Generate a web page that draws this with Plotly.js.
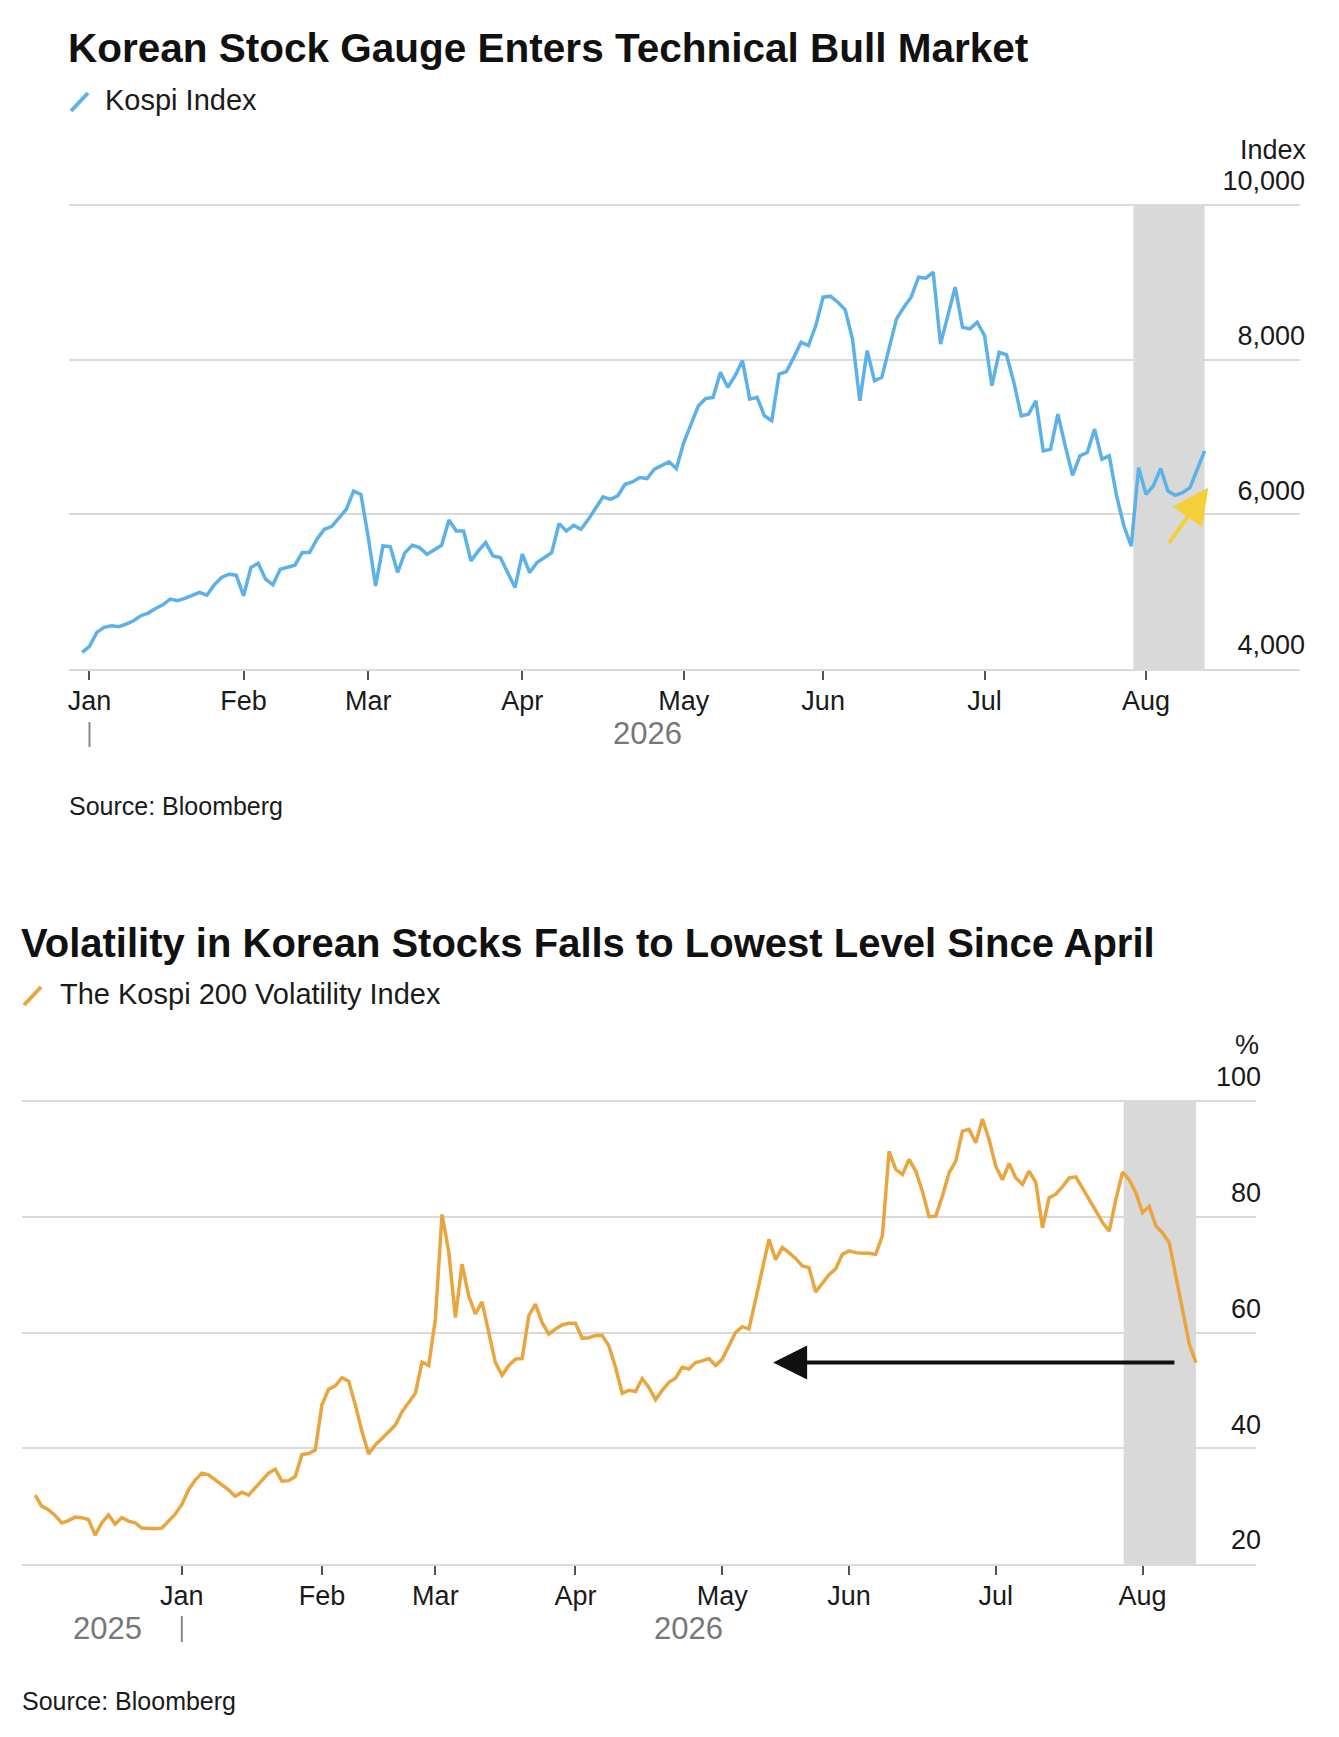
<!DOCTYPE html>
<html>
<head>
<meta charset="utf-8">
<script src="https://cdn.plot.ly/plotly-3.0.1.min.js"></script>
<style>
html,body{margin:0;padding:0;background:#fff;}
#chart{width:1339px;height:1737px;}
</style>
</head>
<body>
<div id="chart"></div>
<script>
// ---------- DATA ----------
const kospiDates = [
"2025-12-30","2026-01-02","2026-01-05","2026-01-06","2026-01-07","2026-01-08","2026-01-09",
"2026-01-12","2026-01-13","2026-01-14","2026-01-15","2026-01-16","2026-01-19","2026-01-20",
"2026-01-21","2026-01-22","2026-01-23","2026-01-26","2026-01-27","2026-01-28","2026-01-29",
"2026-01-30","2026-02-02","2026-02-03","2026-02-04","2026-02-05","2026-02-06","2026-02-09",
"2026-02-10","2026-02-11","2026-02-12","2026-02-13","2026-02-19","2026-02-20","2026-02-23",
"2026-02-24","2026-02-25","2026-02-26","2026-02-27","2026-03-03","2026-03-04","2026-03-05",
"2026-03-06","2026-03-09","2026-03-10","2026-03-11","2026-03-12","2026-03-13","2026-03-16",
"2026-03-17","2026-03-18","2026-03-19","2026-03-20","2026-03-23","2026-03-24","2026-03-25",
"2026-03-26","2026-03-27","2026-03-30","2026-03-31","2026-04-01","2026-04-02","2026-04-03",
"2026-04-06","2026-04-07","2026-04-08","2026-04-09","2026-04-10","2026-04-13","2026-04-14",
"2026-04-15","2026-04-16","2026-04-17","2026-04-20","2026-04-21","2026-04-22","2026-04-23",
"2026-04-24","2026-04-27","2026-04-28","2026-04-29","2026-04-30","2026-05-01","2026-05-04",
"2026-05-06","2026-05-07","2026-05-08","2026-05-11","2026-05-12","2026-05-13","2026-05-14",
"2026-05-15","2026-05-18","2026-05-19","2026-05-20","2026-05-21","2026-05-22","2026-05-26",
"2026-05-27","2026-05-28","2026-05-29","2026-06-01","2026-06-02","2026-06-03","2026-06-04",
"2026-06-05","2026-06-08","2026-06-09","2026-06-10","2026-06-11","2026-06-12","2026-06-15",
"2026-06-16","2026-06-17","2026-06-18","2026-06-19","2026-06-22","2026-06-23","2026-06-24",
"2026-06-25","2026-06-26","2026-06-29","2026-06-30","2026-07-01","2026-07-02","2026-07-03",
"2026-07-06","2026-07-07","2026-07-08","2026-07-09","2026-07-10","2026-07-13","2026-07-14",
"2026-07-15","2026-07-16","2026-07-20","2026-07-21","2026-07-22","2026-07-23","2026-07-24",
"2026-07-27","2026-07-28","2026-07-29","2026-07-30","2026-07-31","2026-08-03","2026-08-04",
"2026-08-05","2026-08-06","2026-08-07","2026-08-10","2026-08-11","2026-08-12","2026-08-13"];
const kospiValues = [
4215,4293,4474,4538,4560,4547,4581,
4624,4689,4723,4783,4830,4904,4882,
4912,4955,4990,4955,5088,5183,5226,
5213,4947,5312,5368,5162,5088,5290,
5312,5342,5505,5505,5678,5806,5841,
5957,6065,6301,6258,5700,5075,5592,
5583,5248,5505,5600,5570,5484,5548,
5600,5927,5785,5785,5398,5527,5635,
5462,5441,5248,5054,5484,5248,5377,
5441,5505,5880,5784,5857,5806,5935,
6086,6225,6194,6238,6389,6419,6475,
6462,6583,6635,6678,6592,6929,7166,
7404,7499,7512,7836,7642,7793,7987,
7490,7512,7274,7210,7814,7845,8030,
8225,8182,8441,8808,8821,8743,8648,
8268,7469,8117,7728,7771,8138,8527,
8678,8808,9067,9054,9132,8203,8570,
8938,8419,8398,8484,8311,7663,8095,
8061,7706,7274,7296,7469,6821,6842,
7296,6886,6505,6756,6799,7102,6713,
6756,6238,5849,5590,6605,6259,6367,
6592,6302,6246,6281,6346,6583,6821];

const volDates = [
"2025-11-28","2025-12-01","2025-12-02","2025-12-03","2025-12-04","2025-12-05","2025-12-08",
"2025-12-09","2025-12-10","2025-12-11","2025-12-12","2025-12-15","2025-12-16","2025-12-17",
"2025-12-18","2025-12-19","2025-12-22","2025-12-23","2025-12-24","2025-12-26","2025-12-29",
"2025-12-30"].concat(kospiDates.slice(1));
const volValues = [
31.9,30.0,29.4,28.4,27.1,27.5,28.1,
28.0,27.7,25.0,27.1,28.5,26.9,28.0,
27.4,27.1,26.2,26.1,26.1,26.2,27.4,
28.6,
// Jan
30.3,32.8,34.5,35.7,35.4,34.5,33.7,32.8,31.7,32.4,31.9,33.1,34.5,35.7,36.4,34.3,34.4,35.1,38.9,39.1,39.7,
// Feb
47.5,50.2,50.8,52.2,51.6,47.5,42.9,39.0,40.6,41.7,42.9,44.0,46.3,47.9,49.5,54.9,54.3,
// Mar
62.3,80.4,74.0,62.6,71.8,66.3,63.2,65.3,60.0,54.8,52.6,54.3,55.4,55.5,62.9,64.9,61.7,59.7,60.6,61.3,61.6,
// Apr
61.6,59.0,59.1,59.5,59.5,57.7,54.0,49.5,50.0,49.8,52.0,50.5,48.4,50.0,51.4,52.1,54.0,53.7,54.8,55.1,55.5,54.3,
// May
55.4,57.7,60.0,61.0,60.6,65.7,70.9,76.1,72.6,74.7,73.8,72.8,71.5,71.2,67.0,68.6,70.0,71.0,73.5,
// Jun
74.1,73.8,73.7,73.7,73.5,76.7,91.3,88.2,87.3,89.9,87.9,84.4,80.0,80.1,83.6,87.6,89.6,94.8,95.1,92.8,96.9,93.3,
// Jul
88.7,86.4,89.2,86.7,85.6,87.9,85.9,78.1,83.3,83.9,85.2,86.7,86.9,85.0,83.0,81.0,79.0,77.5,83.0,87.7,86.4,84.1,
// Aug
80.7,81.8,78.4,77.2,75.5,69.8,63.4,58.0,54.8];

const monthTickDates = ["2026-01-02","2026-02-02","2026-03-03","2026-04-01","2026-05-01","2026-06-01","2026-07-01","2026-08-03"];
const monthTickLabels = ["Jan","Feb","Mar","Apr","May","Jun","Jul","Aug"];
const marketHolidays = ["2025-12-25","2025-12-31","2026-01-01","2026-02-16","2026-02-17","2026-02-18","2026-03-02","2026-05-05","2026-05-25","2026-07-17"];
const kospiTicks = [4000,6000,8000,10000];
const kospiTickLabels = ["4,000","6,000","8,000","10,000"];
const volTicks = [20,40,60,80,100];
const volTickLabels = ["20","40","60","80","100"];

// ---------- STYLE ----------
const W = 1339, H = 1737;
const px = v => v / W;
const py = v => 1 - v / H;
const FONT = "Liberation Sans, Arial, sans-serif";
const GRID = "#dadada";
const BLUE = "#5cb1e8";
const ORANGE = "#e9a53e";

const rb = [{bounds:["sat","mon"]},{values: marketHolidays}];

function xAxis(domain, range, anchor){
  return {
    domain: domain, range: range, type: "date", anchor: anchor,
    rangebreaks: rb,
    tickmode: "array", tickvals: monthTickDates, ticktext: monthTickLabels,
    ticks: "outside", ticklen: 9, tickwidth: 2, tickcolor: "#555",
    ticklabelstandoff: -2,
    showgrid: false, zeroline: false,
    showline: true, linecolor: GRID, linewidth: 2,
    tickfont: {family: FONT, size: 27, color: "#1a1a1a"},
    fixedrange: true
  };
}
function yAxis(domain, range, vals, text, anchor){
  return {
    domain: domain, range: range, anchor: anchor, side: "right",
    tickmode: "array", tickvals: vals, ticktext: text,
    ticklabelposition: "inside", ticklabelshift: -24, ticklabelstandoff: -8,
    ticks: "", showgrid: true, gridcolor: GRID, gridwidth: 2,
    zeroline: false, showline: false,
    tickfont: {family: FONT, size: 27, color: "#1a1a1a"},
    fixedrange: true
  };
}

const traces = [
  {x: kospiDates, y: kospiValues, type: "scatter", mode: "lines", xaxis: "x", yaxis: "y",
   line: {color: BLUE, width: 3.5}, hoverinfo: "skip"},
  {x: volDates, y: volValues, type: "scatter", mode: "lines", xaxis: "x2", yaxis: "y2",
   line: {color: ORANGE, width: 3.5}, hoverinfo: "skip"}
];

// top plot: 4000 at y=669px, 10000 at y=205px (0.07733 px per unit); range extended upward so the
// top tick label sits inside the plot area.  bottom plot: 20 at 1564px, 100 at 1101px.
const TOP_MAX = 10800, BOT_MAX = 112;
const layout = {
  width: W, height: H,
  margin: {l:0, r:0, t:0, b:0},
  paper_bgcolor: "#fff", plot_bgcolor: "#fff",
  showlegend: false,
  xaxis: xAxis([px(69), px(1300)], ["2025-12-26 05:00", "2026-09-01"], "y"),
  yaxis: yAxis([py(669), py(669 - (TOP_MAX - 4000) * 464 / 6000)], [4000, TOP_MAX], kospiTicks, kospiTickLabels, "x"),
  xaxis2: xAxis([px(22), px(1256)], ["2025-11-26 01:00", "2026-08-26"], "y2"),
  yaxis2: yAxis([py(1564), py(1564 - (BOT_MAX - 20) * 463 / 80)], [20, BOT_MAX], volTicks, volTickLabels, "x2"),
  shapes: [
    {type:"rect", xref:"x", yref:"y", x0:"2026-07-30 07:00", x1:"2026-08-13", y0:4000, y1:10000,
     fillcolor:"#d9d9d9", line:{width:0}, layer:"below"},
    {type:"rect", xref:"x2", yref:"y2", x0:"2026-07-29 04:00", x1:"2026-08-13", y0:20, y1:100,
     fillcolor:"#d9d9d9", line:{width:0}, layer:"below"},
    // legend icons
    {type:"line", xref:"paper", yref:"paper", x0:px(71), y0:py(111), x1:px(88), y1:py(93),
     line:{color:BLUE, width:4}},
    {type:"line", xref:"paper", yref:"paper", x0:px(24), y0:py(1005), x1:px(41), y1:py(987),
     line:{color:ORANGE, width:4}},
    // year separators
    {type:"line", xref:"x", yref:"paper", x0:"2026-01-02", x1:"2026-01-02", y0:py(747), y1:py(722),
     line:{color:"#888", width:2}},
    {type:"line", xref:"x2", yref:"paper", x0:"2026-01-02", x1:"2026-01-02", y0:py(1642), y1:py(1616),
     line:{color:"#888", width:2}}
  ],
  annotations: [
    {text:"<b>Korean Stock Gauge Enters Technical Bull Market</b>", xref:"paper", yref:"paper",
     x:px(66), y:py(48), xanchor:"left", yanchor:"middle", showarrow:false,
     font:{family:FONT, size:40.5, color:"#111"}},
    {text:"Kospi Index", xref:"paper", yref:"paper", x:px(103), y:py(100), xanchor:"left", yanchor:"middle",
     showarrow:false, font:{family:FONT, size:29, color:"#1a1a1a"}},
    {text:"Index", xref:"paper", yref:"paper", x:px(1309), y:py(150), xanchor:"right", yanchor:"middle",
     showarrow:false, font:{family:FONT, size:27, color:"#1a1a1a"}},
    {text:"2026", xref:"paper", yref:"paper", x:px(647), y:py(733), xanchor:"center", yanchor:"middle",
     showarrow:false, font:{family:FONT, size:31, color:"#777"}},
    {text:"Source: Bloomberg", xref:"paper", yref:"paper", x:px(67), y:py(806), xanchor:"left", yanchor:"middle",
     showarrow:false, font:{family:FONT, size:25, color:"#1a1a1a"}},
    {text:"", xref:"x", yref:"y", x:"2026-08-13 12:00", y:6346, axref:"x", ayref:"y", ax:"2026-08-06", ay:5611,
     showarrow:true, arrowhead:2, arrowsize:1.8, arrowwidth:4, arrowcolor:"#f3d03a", standoff:0},

    {text:"<b>Volatility in Korean Stocks Falls to Lowest Level Since April</b>", xref:"paper", yref:"paper",
     x:px(19), y:py(943), xanchor:"left", yanchor:"middle", showarrow:false,
     font:{family:FONT, size:40, color:"#111"}},
    {text:"The Kospi 200 Volatility Index", xref:"paper", yref:"paper", x:px(58), y:py(994), xanchor:"left", yanchor:"middle",
     showarrow:false, font:{family:FONT, size:29, color:"#1a1a1a"}},
    {text:"%", xref:"paper", yref:"paper", x:px(1261), y:py(1045), xanchor:"right", yanchor:"middle",
     showarrow:false, font:{family:FONT, size:27, color:"#1a1a1a"}},
    {text:"2025", xref:"paper", yref:"paper", x:px(107), y:py(1628), xanchor:"center", yanchor:"middle",
     showarrow:false, font:{family:FONT, size:31, color:"#777"}},
    {text:"2026", xref:"paper", yref:"paper", x:px(688), y:py(1628), xanchor:"center", yanchor:"middle",
     showarrow:false, font:{family:FONT, size:31, color:"#777"}},
    {text:"Source: Bloomberg", xref:"paper", yref:"paper", x:px(20), y:py(1701), xanchor:"left", yanchor:"middle",
     showarrow:false, font:{family:FONT, size:25, color:"#1a1a1a"}},
    {text:"", xref:"x2", yref:"y2", x:"2026-05-13 15:00", y:54.8, axref:"x2", ayref:"y2", ax:"2026-08-10", ay:54.8,
     showarrow:true, arrowhead:2, arrowsize:1.7, arrowwidth:4, arrowcolor:"#111", standoff:0}
  ]
};

Plotly.newPlot("chart", traces, layout, {staticPlot: true, displayModeBar: false});
</script>
</body>
</html>
